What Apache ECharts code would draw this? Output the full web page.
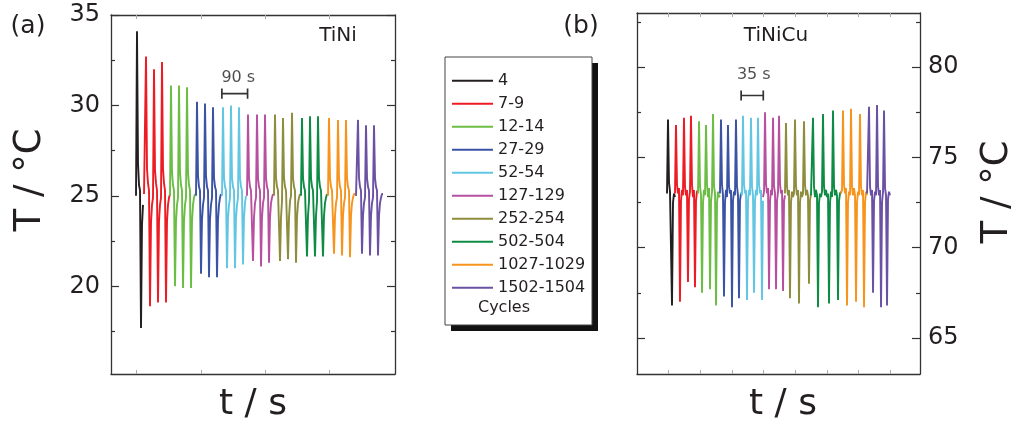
<!DOCTYPE html>
<html>
<head>
<meta charset="utf-8">
<script src="https://cdn.jsdelivr.net/npm/echarts@6/dist/echarts.min.js"></script>
<style>html,body{margin:0;padding:0;background:#fff}#c{width:1016px;height:423px}</style>
</head>
<body>
<div id="c"></div>
<script>
// ---------- data ----------
const cycles = ['4','7-9','12-14','27-29','52-54','127-129','252-254','502-504','1027-1029','1502-1504'];
const palette = ['#231f20','#ed1c24','#6cbd45','#3a53a4','#62c6e2','#b7519f','#8e8c3d','#0e8b44','#f7941d','#6b51a3'];

// TiNi (panel a): temperature samples, one every tiniStep seconds, starting at tiniStart[i]
const tiniStep = 3.5;
const tiniStart = [87.5, 115.5, 206.5, 297.5, 388.5, 476, 570.5, 665, 759.5, 857.5];
const tini4    = [25.0,34.1,26.8,25.6,25.3,17.7,23.4,24.5];
const tini7    = [25.1,25.0,32.7,26.5,25.7,25.3,18.9,23.5,24.5,24.9,32.0,26.4,25.7,25.3,19.1,23.6,24.5,24.9,32.4,26.5,25.7,25.3,19.1,23.6,24.5,24.9,25.1];
const tini12   = [25.0,31.1,26.3,25.6,25.3,20.0,23.6,24.5,24.9,31.1,26.3,25.6,25.3,19.9,23.6,24.5,24.9,31.0,26.3,25.6,25.3,19.9,23.6,24.5,24.9,25.1];
const tini27   = [25.0,30.2,26.1,25.5,25.3,20.7,23.7,24.5,24.9,30.1,26.1,25.5,25.3,20.5,23.7,24.5,24.9,29.9,26.0,25.5,25.3,20.5,23.7,24.5,24.9,25.1];
const tini52   = [25.0,29.9,26.0,25.5,25.3,21.0,23.8,24.5,24.9,30.0,26.0,25.5,25.3,21.0,23.8,24.5,24.9,29.9,26.0,25.5,25.3,21.2,23.8,24.6,25.0];
const tini127  = [25.0,29.5,26.0,25.5,25.3,25.2,21.4,23.8,24.6,24.9,29.5,26.0,25.5,25.3,21.1,23.8,24.6,24.9,29.5,26.0,25.5,25.3,21.3,23.8,24.6,24.9,25.1];
const tini252  = [25.0,29.5,26.0,25.5,25.3,25.2,21.4,23.8,24.7,29.3,26.0,25.5,25.3,25.2,21.5,23.8,24.7,25.0,29.6,26.0,25.5,25.3,21.3,23.8,24.6,24.9,25.1];
const tini502  = [25.0,29.3,26.0,25.5,25.3,25.2,21.65,23.9,24.7,29.4,26.0,25.5,25.3,25.2,21.65,23.9,24.7,29.4,26.0,25.5,25.3,25.2,21.65,23.9,24.6,24.9,25.1];
const tini1027 = [25.0,29.3,26.0,25.5,25.3,25.2,21.8,23.9,24.6,24.9,29.2,26.0,25.5,25.3,21.7,23.9,24.6,24.9,29.2,26.0,25.5,25.3,21.6,23.9,24.6,24.9,25.1,25.1];
const tini1502 = [25.0,25.0,29.2,26.0,25.5,25.3,21.8,23.9,24.6,24.9,28.9,26.0,25.5,25.3,21.7,23.9,24.6,24.9,28.9,26.0,25.5,25.3,21.7,23.9,24.6,24.9,25.1,25.1];

// TiNiCu (panel b)
const cuStep = 1.58;
const cuStart = [47.4, 60.0, 96.4, 131.1, 164.3, 199.1, 233.8, 274.9, 322.3, 363.4];
const cu4    = [73.0,77.1,73.6,73.1,73.2,66.8,72.5,73.0,72.8];
const cu7    = [73.0,76.8,73.5,73.0,73.3,67.0,72.6,73.2,72.9,77.2,73.4,72.9,73.2,68.1,72.7,73.1,77.3,73.5,72.8,73.2,67.8,72.6,73.1,73.2];
const cu12   = [73.0,77.0,73.4,72.9,67.5,72.5,73.2,72.9,76.8,73.5,72.8,73.3,67.7,72.6,73.1,77.4,73.4,73.0,66.8,72.5,73.1,72.8,72.9];
const cu27   = [73.0,77.1,73.5,72.9,67.3,72.5,73.2,72.8,76.8,73.4,73.0,73.2,66.7,72.6,73.1,72.9,77.1,73.4,72.9,67.2,72.6,73.0];
const cu52   = [73.1,72.9,77.3,73.5,73.0,73.2,67.1,72.6,73.2,72.9,77.2,73.4,72.9,67.5,72.6,73.2,72.9,77.2,73.5,73.0,73.2,67.1,72.6];
const cu127  = [72.8,73.1,77.5,73.5,73.0,73.3,67.7,72.6,73.2,72.9,77.2,73.4,73.0,67.7,72.6,73.1,77.3,73.5,73.0,73.2,67.6,72.6,72.9];
const cu252  = [73.0,76.9,73.4,72.9,73.2,67.2,72.5,73.1,72.8,73.0,77.1,73.4,72.9,73.2,66.9,72.5,73.1,72.8,73.0,77.0,73.5,72.9,73.2,72.9,68.0,72.6,73.0];
const cu502  = [72.9,73.0,77.2,73.4,72.8,73.2,72.9,66.7,72.5,73.0,72.8,73.1,77.4,73.4,72.9,73.2,72.8,73.0,66.9,72.5,73.1,72.8,77.6,73.4,72.9,73.2,72.9,67.1,72.6,73.0,73.1];
const cu1027 = [73.0,73.2,77.6,73.5,73.0,73.3,66.8,72.5,73.1,72.9,77.7,73.4,72.9,73.3,72.9,67.0,72.5,73.1,72.9,77.4,73.4,72.9,73.2,66.7,72.5,73.1,72.9];
const cu1502 = [73.0,73.1,77.8,73.4,72.9,73.2,67.5,72.6,73.1,72.9,77.9,73.4,72.9,73.2,66.7,72.5,73.1,77.6,73.3,72.9,66.8,72.7,73.1,72.9];

// axes
const tiniYRange = [15.15, 35];
const tiniXRange = [0, 994];
const tiniYLabels = [20, 25, 30, 35];
const tiniYMinor = [17.5, 22.5, 27.5, 32.5];
const tiniXTicks = [90, 315, 540, 765];
const cuYRange = [63, 83];
const cuXRange = [0, 447.1];
const cuYLabels = [65, 70, 75, 80];
const cuYMinor = [67.5, 72.5, 77.5, 82.5];
const cuXTicks = [50, 100, 150, 200, 250, 300, 350, 400];

// scale bars [from, to, level] and their texts
const tiniBar = [388, 478, 30.65];
const tiniBarText = ['90 s', 445.6, 31.53];
const cuBar = [164.5, 199.5, 78.43];
const cuBarText = ['35 s', 184.5, 79.55];

// ---------- chart ----------
const FONT = 'DejaVu Sans';
const INK = '#231f20';
const FRAME = '#333';
const tiniVals = [tini4,tini7,tini12,tini27,tini52,tini127,tini252,tini502,tini1027,tini1502];
const cuVals = [cu4,cu7,cu12,cu27,cu52,cu127,cu252,cu502,cu1027,cu1502];

function sampled(vals, start, step) {
  return vals.map((v, i) => [+(start + i * step).toFixed(3), v]);
}

function yAxes(grid, range, major, minor, labelSide) {
  const base = {gridIndex: grid, type: 'value', min: range[0], max: range[1], splitLine: {show: false}};
  const mk = (pos, ticks, len, showLine, labels) => Object.assign({}, base, {
    position: pos,
    axisLine: {show: showLine, onZero: false, lineStyle: {color: FRAME, width: 1.3}},
    axisTick: {show: true, inside: true, length: len, customValues: ticks, lineStyle: {color: FRAME, width: 1.2}},
    axisLabel: labels ? {show: true, customValues: major, fontSize: 24, fontFamily: FONT, color: INK, margin: pos === 'left' ? 11 : 8} : {show: false}
  });
  return [
    mk('left', major, 8, true, labelSide === 'left'),
    mk('left', minor, 4, false, false),
    mk('right', major, 8, true, labelSide === 'right'),
    mk('right', minor, 4, false, false)
  ];
}
function xAxes(grid, range, ticks) {
  const mk = (pos) => ({
    gridIndex: grid, type: 'value', min: range[0], max: range[1], position: pos,
    splitLine: {show: false},
    axisLine: {show: true, onZero: false, lineStyle: {color: FRAME, width: 1.3}},
    axisTick: {show: true, inside: true, length: 4, customValues: ticks, lineStyle: {color: '#aaa', width: 1}},
    axisLabel: {show: false}
  });
  return [mk('bottom'), mk('top')];
}

const series = [];
cycles.forEach((name, i) => {
  const common = {name, type: 'line', symbol: 'none', showSymbol: false, color: palette[i],
    lineStyle: {width: 1.9, color: palette[i]}, emphasis: {disabled: true}, silent: true, z: 3};
  series.push(Object.assign({}, common, {xAxisIndex: 0, yAxisIndex: 0, data: sampled(tiniVals[i], tiniStart[i], tiniStep)}));
  series.push(Object.assign({}, common, {xAxisIndex: 2, yAxisIndex: 4, data: sampled(cuVals[i], cuStart[i], cuStep)}));
});

function barSeries(xi, yi, bar, txt) {
  const c = 0.28;
  return [
    {type: 'line', xAxisIndex: xi, yAxisIndex: yi, symbol: 'none', silent: true, z: 4,
     lineStyle: {color: FRAME, width: 1.7},
     data: [[bar[0], bar[2] - c], [bar[0], bar[2] + c], [bar[0], bar[2]], [bar[1], bar[2]], [bar[1], bar[2] + c], [bar[1], bar[2] - c]]},
    {type: 'scatter', xAxisIndex: xi, yAxisIndex: yi, symbolSize: 1, silent: true, z: 4,
     itemStyle: {color: 'rgba(0,0,0,0)'},
     label: {show: true, position: 'inside', formatter: txt[0], fontSize: 16, fontFamily: FONT, color: INK},
     data: [[txt[1], txt[2]]]}
  ];
}
series.push(...barSeries(0, 0, tiniBar, tiniBarText));
series.push(...barSeries(2, 4, cuBar, cuBarText));

const txt = (text, x, y, size, rot) => ({type: 'text', x, y, rotation: rot || 0, z: 10,
  style: {text, fontSize: size, fontFamily: FONT, fill: INK, align: 'center', verticalAlign: 'middle'}});

const option = {
  animation: false,
  backgroundColor: '#fff',
  grid: [
    {left: 111, top: 15, width: 284, height: 359},
    {left: 637, top: 13, width: 283, height: 361}
  ],
  xAxis: [...xAxes(0, tiniXRange, tiniXTicks), ...xAxes(1, cuXRange, cuXTicks)],
  yAxis: [...yAxes(0, tiniYRange, tiniYLabels, tiniYMinor, 'left'), ...yAxes(1, cuYRange, cuYLabels, cuYMinor, 'right')],
  legend: {
    data: cycles, orient: 'vertical', left: 452, top: 72.7, padding: 0,
    itemWidth: 41, itemHeight: 2, icon: 'rect', itemGap: 7, selectedMode: false,
    textStyle: {fontSize: 16, fontFamily: FONT, color: INK}
  },
  graphic: [
    {type: 'rect', z: 1, shape: {x: 451, y: 63, width: 147, height: 268}, style: {fill: '#111'}},
    {type: 'rect', z: 2, shape: {x: 445, y: 57, width: 147, height: 268}, style: {fill: '#fff', stroke: '#444', lineWidth: 1}},
    txt('Cycles', 504, 308, 16),
    txt('(a)', 28, 26, 25),
    txt('(b)', 581, 26, 25),
    txt('TiNi', 338, 36, 20),
    txt('TiNiCu', 776, 36, 20),
    txt('T / °C', 30, 180, 37, Math.PI / 2),
    txt('T / °C', 997, 192, 37, Math.PI / 2),
    txt('t / s', 253, 405, 36),
    txt('t / s', 783, 405, 36)
  ],
  series
};
echarts.init(document.getElementById('c'), null, {renderer: 'canvas'}).setOption(option);
</script>
</body>
</html>
